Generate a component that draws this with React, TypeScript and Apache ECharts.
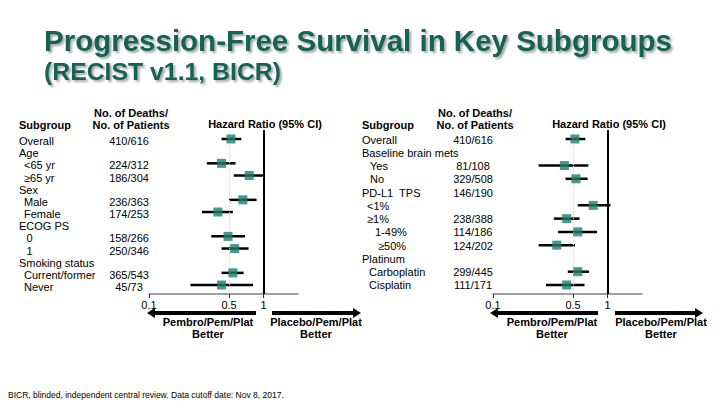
import React, { useEffect, useRef } from "react";
import * as echarts from "echarts";

// ---------- data ----------
const leftSubgroups = ["Overall", "Age", "<65 yr", "≥65 yr", "Sex", "Male", "Female", "ECOG PS", "0", "1", "Smoking status", "Current/former", "Never"];
const leftIndent = [0, 0, 1, 1, 0, 1, 1, 0, 1.5, 1.5, 0, 1, 1];
const leftDeaths = ["410/616", "", "224/312", "186/304", "", "236/363", "174/253", "", "158/266", "250/346", "", "365/543", "45/73"];
const leftHR = [0.52, null, 0.43, 0.75, null, 0.66, 0.40, null, 0.49, 0.56, null, 0.54, 0.43];
const leftLo = [0.43, null, 0.32, 0.55, null, 0.50, 0.29, null, 0.35, 0.43, null, 0.43, 0.23];
const leftHi = [0.64, null, 0.57, 1.02, null, 0.87, 0.54, null, 0.69, 0.74, null, 0.67, 0.81];

const rightSubgroups = ["Overall", "Baseline brain mets", "Yes", "No", "PD-L1  TPS", "<1%", "≥1%", "1-49%", "≥50%", "Platinum", "Carboplatin", "Cisplatin"];
const rightIndent = [0, 0, 1.6, 1.6, 0, 1, 1, 2.6, 3.2, 0, 1.4, 1.4];
const rightDeaths = ["410/616", "", "81/108", "329/508", "146/190", "", "238/388", "114/186", "124/202", "", "299/445", "111/171"];
const rightHR = [0.52, null, 0.42, 0.53, null, 0.75, 0.44, 0.55, 0.36, null, 0.55, 0.44];
const rightLo = [0.43, null, 0.25, 0.43, null, 0.55, 0.34, 0.37, 0.25, null, 0.45, 0.29];
const rightHi = [0.64, null, 0.68, 0.67, null, 1.06, 0.57, 0.81, 0.52, null, 0.69, 0.63];

const axisTicks = [0.1, 0.5, 1];
const titleText = "Progression-Free Survival in Key Subgroups";
const subtitleText = "(RECIST v1.1, BICR)";
const footnote = "BICR, blinded, independent central review. Data cutoff date: Nov 8, 2017.";
const betterLeft = ["Pembro/Pem/Plat", "Better"];
const betterRight = ["Placebo/Pem/Plat", "Better"];

// ---------- style / layout ----------
const FONT = '"Liberation Sans", Arial, sans-serif';
const TEAL = "#1d7d6e";
const TITLE_COLOR = "#136252";
const GRID_TOP = 130;
const GRID_H = 164;
const ROW0 = 139;
const LEFT_STEP = 12.17;
const RIGHT_STEP = 13.27;

const panels = [
  {
    key: "L", gridLeft: 149, gridW: 149, step: LEFT_STEP,
    labels: leftSubgroups, indent: leftIndent, deaths: leftDeaths, hr: leftHR, lo: leftLo, hi: leftHi,
    labelX: 19, numX: 129, textDy: 2, hrTitleX: 265,
    arrows: [[256, 147], [272, 361]], betterX: [208, 316],
  },
  {
    key: "R", gridLeft: 493, gridW: 149, step: RIGHT_STEP,
    labels: rightSubgroups, indent: rightIndent, deaths: rightDeaths, hr: rightHR, lo: rightLo, hi: rightHi,
    labelX: 362, numX: 473, textDy: 0.5, hrTitleX: 609,
    arrows: [[598, 490], [615, 703]], betterX: [552, 661],
  },
];

function txt(text: string, x: number, y: number, opts: any = {}) {
  return {
    type: "text",
    x, y,
    silent: true,
    style: {
      text,
      fontFamily: FONT,
      fontSize: opts.size ?? 11,
      fontWeight: opts.weight ?? "normal",
      fill: opts.color ?? "#000",
      textAlign: opts.align ?? "left",
      textVerticalAlign: "middle",
      ...(opts.extra || {}),
    },
  };
}

function arrow(tail: number, tip: number, y: number) {
  const dir = tip > tail ? 1 : -1;
  const headLen = 8;
  return [
    { type: "line", silent: true, shape: { x1: tail, y1: y, x2: tip - dir * headLen, y2: y }, style: { stroke: "#000", lineWidth: 4 } },
    { type: "polygon", silent: true, shape: { points: [[tip, y], [tip - dir * headLen, y - 5], [tip - dir * headLen, y + 5]] }, style: { fill: "#000" } },
  ];
}

function buildOption() {
  const grid: any[] = [];
  const xAxis: any[] = [];
  const yAxis: any[] = [];
  const series: any[] = [];
  const graphic: any[] = [];

  const shadow = { textShadowColor: "rgba(0,0,0,0.35)", textShadowOffsetX: 2, textShadowOffsetY: 2, textShadowBlur: 2 };
  graphic.push(txt(titleText, 44, 40, { size: 29.5, weight: "bold", color: TITLE_COLOR, extra: shadow }));
  graphic.push(txt(subtitleText, 44, 71, { size: 24.8, weight: "bold", color: TITLE_COLOR, extra: shadow }));
  graphic.push(txt(footnote, 8, 395, { size: 8.5 }));

  panels.forEach((p, pi) => {
    const yMin = -(ROW0 - GRID_TOP) / p.step;
    const yMax = (GRID_TOP + GRID_H - ROW0) / p.step;
    grid.push({ left: p.gridLeft, top: GRID_TOP, width: p.gridW, height: GRID_H, containLabel: false });
    xAxis.push({
      type: "log", logBase: 10, gridIndex: pi, min: 0.1, max: 2, position: "bottom",
      axisLine: { show: true, onZero: false, lineStyle: { color: "#808080", width: 1.5 } },
      axisTick: { show: true, customValues: axisTicks, length: 4, lineStyle: { color: "#333", width: 1 } },
      axisLabel: { show: true, customValues: axisTicks, formatter: (v: number) => String(+(+v).toPrecision(3)), fontFamily: FONT, fontSize: 11, color: "#000", margin: 5 },
      splitLine: { show: false },
      minorTick: { show: false },
    });
    yAxis.push({ type: "value", gridIndex: pi, inverse: true, min: yMin, max: yMax, show: false });

    const ciData: any[] = [];
    const ptData: any[] = [];
    p.hr.forEach((v, i) => {
      if (v == null) return;
      ciData.push([p.lo[i], p.hi[i], i]);
      ptData.push([v, i]);
    });
    series.push({
      type: "custom", xAxisIndex: pi, yAxisIndex: pi, silent: true, z: 2,
      encode: { x: [0, 1], y: 2 },
      data: ciData,
      renderItem: (params: any, api: any) => {
        const a = api.coord([api.value(0), api.value(2)]);
        const b = api.coord([api.value(1), api.value(2)]);
        return { type: "line", shape: { x1: a[0], y1: a[1], x2: b[0], y2: b[1] }, style: { stroke: "#000", lineWidth: 2.5 } };
      },
    });
    series.push({
      type: "scatter", xAxisIndex: pi, yAxisIndex: pi, silent: true, z: 4,
      symbol: "rect", symbolSize: 9,
      itemStyle: { color: TEAL },
      data: ptData,
      markLine: {
        silent: true, symbol: "none", label: { show: false }, z: 3,
        data: [
          { xAxis: 0.5, lineStyle: { color: "#d8d8d8", width: 1, type: "dotted" } },
          { xAxis: 1, lineStyle: { color: "#000", width: 2, type: "solid" } },
        ],
      },
    });

    // table headers
    graphic.push(txt("Subgroup", p.labelX, 125, { weight: "bold" }));
    graphic.push(txt("No. of Deaths/", p.numX + 2, 113, { weight: "bold", align: "center" }));
    graphic.push(txt("No. of Patients", p.numX + 2, 125, { weight: "bold", align: "center" }));
    graphic.push(txt("Hazard Ratio (95% CI)", p.hrTitleX, 124, { weight: "bold", align: "center" }));

    // table rows
    p.labels.forEach((lab, i) => {
      const y = ROW0 + p.textDy + i * p.step;
      graphic.push(txt(lab, p.labelX + p.indent[i] * 5, y));
      if (p.deaths[i]) graphic.push(txt(p.deaths[i], p.numX, y, { align: "center" }));
    });

    // arrows and labels
    p.arrows.forEach(([tail, tip]) => graphic.push(...arrow(tail, tip, 313)));
    graphic.push(txt(betterLeft[0], p.betterX[0], 322, { weight: "bold", align: "center" }));
    graphic.push(txt(betterLeft[1], p.betterX[0], 334, { weight: "bold", align: "center" }));
    graphic.push(txt(betterRight[0], p.betterX[1], 322, { weight: "bold", align: "center" }));
    graphic.push(txt(betterRight[1], p.betterX[1], 334, { weight: "bold", align: "center" }));
  });

  return {
    animation: false,
    backgroundColor: "#fff",
    grid, xAxis, yAxis, series, graphic,
  };
}

export default function App() {
  const ref = useRef<HTMLDivElement>(null);
  useEffect(() => {
    if (!ref.current) return;
    const chart = echarts.init(ref.current, undefined, { renderer: "svg" });
    chart.setOption(buildOption() as any);
    return () => chart.dispose();
  }, []);
  return <div ref={ref} style={{ position: "fixed", left: 0, top: 0, width: 720, height: 405 }} />;
}
